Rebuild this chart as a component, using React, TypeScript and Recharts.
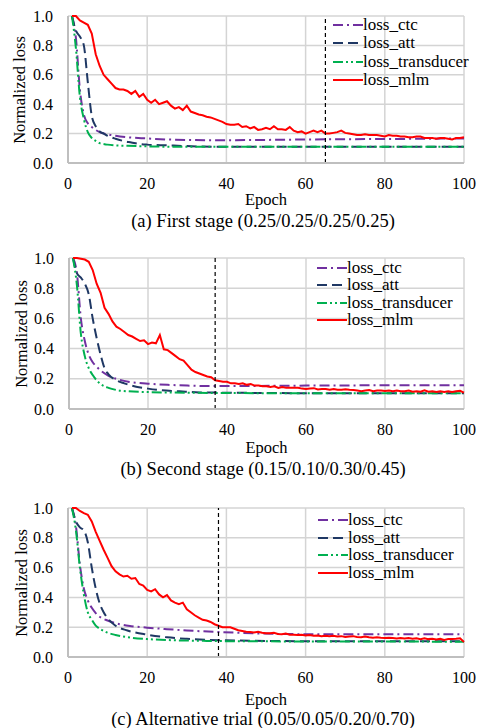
import React from 'react';
import { LineChart, Line, XAxis, YAxis, CartesianGrid, ReferenceLine } from 'recharts';

const FONT = 'Liberation Serif';

const xTicks = [0, 20, 40, 60, 80, 100];
const yTicks = [0, 0.2, 0.4, 0.6, 0.8, 1.0];
const seriesNames = ['loss_ctc', 'loss_att', 'loss_transducer', 'loss_mlm'];
const captions = [
  '(a) First stage (0.25/0.25/0.25/0.25)',
  '(b) Second stage (0.15/0.10/0.30/0.45)',
  '(c) Alternative trial (0.05/0.05/0.20/0.70)',
];
const stageBoundaries = [65, 37, 38];

// epochs for the per-epoch mlm series
const mlmEpochs = Array.from({ length: 100 }, (_, i) => i + 1);

// ---------- Panel (a) ----------
const aCtcEpochs = [1, 2, 3, 4, 5, 6, 7, 8, 10, 12, 15, 20, 25, 30, 40, 50, 60, 70, 80, 90, 100];
const aCtc = [1.0, 0.85, 0.5, 0.33, 0.27, 0.245, 0.225, 0.21, 0.195, 0.185, 0.175, 0.167, 0.16, 0.157, 0.155, 0.157, 0.16, 0.162, 0.163, 0.165, 0.167];
const aAttEpochs = [1, 2, 3, 4, 5, 6, 7, 8, 9, 10, 12, 14, 16, 18, 20, 25, 30, 40, 60, 80, 100];
const aAtt = [1.0, 0.9, 0.86, 0.8, 0.55, 0.32, 0.25, 0.215, 0.2, 0.185, 0.165, 0.15, 0.14, 0.13, 0.125, 0.12, 0.115, 0.11, 0.11, 0.11, 0.11];
const aTrdEpochs = [1, 2, 3, 4, 5, 6, 7, 8, 10, 12, 15, 20, 30, 50, 100];
const aTrd = [1.0, 0.78, 0.45, 0.3, 0.21, 0.17, 0.15, 0.135, 0.125, 0.12, 0.117, 0.113, 0.11, 0.11, 0.11];
const aMlm = [
  1.0, 1.0, 0.97, 0.955, 0.94, 0.88, 0.74, 0.66, 0.6, 0.57,
  0.54, 0.51, 0.5, 0.5, 0.49, 0.47, 0.49, 0.45, 0.47, 0.43,
  0.41, 0.43, 0.4, 0.41, 0.42, 0.39, 0.37, 0.38, 0.36, 0.39,
  0.35, 0.34, 0.33, 0.325, 0.315, 0.31, 0.3, 0.29, 0.28, 0.265,
  0.26, 0.26, 0.265, 0.245, 0.25, 0.235, 0.245, 0.225, 0.23, 0.24,
  0.23, 0.25, 0.23, 0.23, 0.225, 0.245, 0.22, 0.21, 0.215, 0.2,
  0.21, 0.22, 0.21, 0.22, 0.2, 0.2, 0.205, 0.21, 0.22, 0.205,
  0.2, 0.195, 0.19, 0.19, 0.195, 0.19, 0.19, 0.19, 0.185, 0.18,
  0.19, 0.185, 0.185, 0.18, 0.18, 0.175, 0.175, 0.18, 0.18, 0.17,
  0.17, 0.17, 0.165, 0.17, 0.17, 0.165, 0.16, 0.17, 0.17, 0.175,
];

// ---------- Panel (b) ----------
const bCtcEpochs = [1, 2, 3, 4, 5, 6, 7, 8, 10, 12, 15, 20, 25, 30, 35, 40, 60, 80, 100];
const bCtc = [1.0, 0.9, 0.6, 0.45, 0.36, 0.31, 0.28, 0.255, 0.22, 0.2, 0.18, 0.168, 0.16, 0.155, 0.152, 0.152, 0.155, 0.157, 0.158];
const bAttEpochs = [1, 2, 3, 4, 5, 6, 7, 8, 9, 10, 12, 14, 17, 20, 23, 28, 33, 40, 60, 80, 100];
const bAtt = [1.0, 0.9, 0.87, 0.83, 0.76, 0.6, 0.47, 0.36, 0.27, 0.23, 0.19, 0.17, 0.148, 0.135, 0.125, 0.117, 0.11, 0.108, 0.105, 0.105, 0.105];
const bTrdEpochs = [1, 2, 3, 4, 5, 6, 7, 8, 10, 12, 15, 20, 30, 50, 100];
const bTrd = [1.0, 0.82, 0.5, 0.35, 0.27, 0.225, 0.19, 0.165, 0.14, 0.126, 0.117, 0.112, 0.108, 0.105, 0.105];
const bMlm = [
  1.0, 1.0, 0.995, 0.99, 0.975, 0.92, 0.83, 0.77, 0.67, 0.63,
  0.58, 0.545, 0.53, 0.51, 0.49, 0.48, 0.465, 0.45, 0.455, 0.43,
  0.44, 0.435, 0.49, 0.395, 0.39, 0.37, 0.35, 0.33, 0.32, 0.29,
  0.26, 0.245, 0.235, 0.225, 0.215, 0.21, 0.19, 0.185, 0.18, 0.18,
  0.17, 0.17, 0.165, 0.17, 0.16, 0.165, 0.155, 0.155, 0.15, 0.15,
  0.145, 0.15, 0.14, 0.145, 0.14, 0.14, 0.14, 0.14, 0.135, 0.132,
  0.135, 0.138, 0.13, 0.133, 0.132, 0.128, 0.132, 0.128, 0.127, 0.13,
  0.127, 0.126, 0.122, 0.118, 0.122, 0.126, 0.118, 0.122, 0.122, 0.12,
  0.122, 0.118, 0.122, 0.118, 0.118, 0.122, 0.114, 0.118, 0.114, 0.123,
  0.114, 0.118, 0.113, 0.118, 0.113, 0.117, 0.113, 0.118, 0.12, 0.108,
];

// ---------- Panel (c) ----------
const cCtcEpochs = [1, 2, 3, 4, 5, 6, 7, 8, 10, 13, 16, 20, 25, 30, 38, 48, 60, 80, 100];
const cCtc = [1.0, 0.88, 0.62, 0.46, 0.38, 0.33, 0.295, 0.27, 0.245, 0.22, 0.207, 0.197, 0.187, 0.178, 0.168, 0.158, 0.153, 0.152, 0.152];
const cAttEpochs = [1, 2, 3, 4, 5, 6, 7, 8, 9, 10, 12, 15, 20, 25, 30, 38, 50, 70, 100];
const cAtt = [1.0, 0.91, 0.87, 0.85, 0.77, 0.6, 0.46, 0.36, 0.3, 0.26, 0.21, 0.178, 0.15, 0.132, 0.122, 0.113, 0.108, 0.105, 0.105];
const cTrdEpochs = [1, 2, 3, 4, 5, 6, 7, 8, 9, 10, 12, 15, 20, 26, 35, 50, 100];
const cTrd = [1.0, 0.85, 0.6, 0.42, 0.3, 0.25, 0.21, 0.19, 0.175, 0.163, 0.148, 0.133, 0.12, 0.113, 0.108, 0.105, 0.103];
const cMlm = [
  1.0, 1.0, 0.98, 0.965, 0.955, 0.91, 0.84, 0.78, 0.72, 0.665,
  0.61, 0.575, 0.555, 0.54, 0.545, 0.525, 0.53, 0.49, 0.48, 0.45,
  0.44, 0.455, 0.42, 0.4, 0.415, 0.38, 0.365, 0.355, 0.365, 0.32,
  0.3, 0.28, 0.265, 0.25, 0.245, 0.235, 0.22, 0.21, 0.2, 0.2,
  0.2, 0.19, 0.18, 0.175, 0.17, 0.168, 0.165, 0.17, 0.163, 0.16,
  0.16, 0.162, 0.155, 0.152, 0.157, 0.15, 0.15, 0.148, 0.15, 0.145,
  0.147, 0.142, 0.145, 0.14, 0.143, 0.14, 0.142, 0.138, 0.14, 0.135,
  0.138, 0.14, 0.135, 0.133, 0.138, 0.132, 0.13, 0.133, 0.13, 0.128,
  0.13, 0.128, 0.125, 0.128, 0.125, 0.127, 0.123, 0.125, 0.12, 0.125,
  0.12, 0.122, 0.118, 0.122, 0.115, 0.12, 0.12, 0.122, 0.125, 0.1,
];

const COLORS = ['#7030A0', '#1F3864', '#00B050', '#FF0000'];
const DASHES = ['10 4 2 4', '10 5', '10 3 2 3 2 3', undefined];

type Pt = { epoch: number; [k: string]: number | undefined };

function buildTable(series: { ep: number[]; v: number[] }[]): Pt[] {
  const map = new Map<number, Pt>();
  series.forEach((s, si) => {
    s.ep.forEach((e, i) => {
      if (!map.has(e)) map.set(e, { epoch: e });
      (map.get(e) as Pt)['s' + si] = s.v[i];
    });
  });
  return Array.from(map.values()).sort((a, b) => a.epoch - b.epoch);
}

const panelData = [
  buildTable([{ ep: aCtcEpochs, v: aCtc }, { ep: aAttEpochs, v: aAtt }, { ep: aTrdEpochs, v: aTrd }, { ep: mlmEpochs, v: aMlm }]),
  buildTable([{ ep: bCtcEpochs, v: bCtc }, { ep: bAttEpochs, v: bAtt }, { ep: bTrdEpochs, v: bTrd }, { ep: mlmEpochs, v: bMlm }]),
  buildTable([{ ep: cCtcEpochs, v: cCtc }, { ep: cAttEpochs, v: cAtt }, { ep: cTrdEpochs, v: cTrd }, { ep: mlmEpochs, v: cMlm }]),
];

type Layout = {
  plotTop: number; plotBottom: number; plotLeft: number; plotRight: number;
  legendX: number; legendY: number; legendGap: number;
  yLabelX: number; epochY: number; captionY: number;
};

const layouts: Layout[] = [
  { plotTop: 16, plotBottom: 163, plotLeft: 68, plotRight: 464, legendX: 333, legendY: 25, legendGap: 18.3, yLabelX: 20, epochY: 200, captionY: 221 },
  { plotTop: 258, plotBottom: 409, plotLeft: 69, plotRight: 464, legendX: 317, legendY: 268, legendGap: 17.3, yLabelX: 22, epochY: 448, captionY: 469 },
  { plotTop: 508, plotBottom: 657, plotLeft: 68, plotRight: 464, legendX: 318, legendY: 520, legendGap: 17.5, yLabelX: 22, epochY: 700, captionY: 719 },
];

const tickStyle = { fontFamily: FONT, fontSize: 16, fill: '#000' };

function Panel({ idx }: { idx: number }) {
  const L = layouts[idx];
  const mt = 10;
  const xh = 30;
  const h = L.plotBottom - L.plotTop + mt + xh;
  const data = panelData[idx];
  return (
    <>
      <div style={{ position: 'absolute', left: 0, top: L.plotTop - mt, fontFamily: FONT }}>
        <LineChart width={478} height={h} data={data}
          margin={{ top: mt, right: 478 - L.plotRight, bottom: 0, left: 0 }}>
          <CartesianGrid stroke="#D4D4D4" strokeWidth={1.5} />
          <XAxis dataKey="epoch" type="number" domain={[0, 100]} ticks={xTicks} height={xh}
            tickLine={false} tickSize={0} tickMargin={15} interval={0}
            axisLine={{ stroke: '#BFBFBF', strokeWidth: 2 }} tick={tickStyle} />
          <YAxis type="number" domain={[0, 1]} ticks={yTicks} width={L.plotLeft}
            tickLine={false} tickSize={0} tickMargin={15} interval={0}
            tickFormatter={(v: number) => v.toFixed(1)}
            axisLine={{ stroke: '#BFBFBF', strokeWidth: 2 }} tick={tickStyle} />
          {seriesNames.map((n, si) => (
            <Line key={n} dataKey={'s' + si} name={n} type={si === 3 ? 'linear' : 'monotone'}
              stroke={COLORS[si]} strokeWidth={2} strokeDasharray={DASHES[si]}
              dot={false} activeDot={false} connectNulls isAnimationActive={false} />
          ))}
          <ReferenceLine x={stageBoundaries[idx]} stroke="#000" strokeWidth={1.2} strokeDasharray="4 3" />
        </LineChart>
      </div>
      {/* legend */}
      {seriesNames.map((n, si) => (
        <div key={n} style={{ position: 'absolute', left: L.legendX, top: L.legendY + si * L.legendGap - 9, height: 18, display: 'flex', alignItems: 'center', fontFamily: FONT, fontSize: 17, color: '#000', whiteSpace: 'nowrap', lineHeight: '18px' }}>
          <svg width={30} height={18} style={{ display: 'block' }}>
            <line x1={0} y1={9} x2={30} y2={9} stroke={COLORS[si]} strokeWidth={2} strokeDasharray={DASHES[si]} />
          </svg>
          <span>{n}</span>
        </div>
      ))}
      {/* y label */}
      <div style={{ position: 'absolute', left: L.yLabelX - 80, top: (L.plotTop + L.plotBottom) / 2 - 9, width: 160, height: 18, lineHeight: '18px', textAlign: 'center', transform: 'rotate(-90deg)', fontFamily: FONT, fontSize: 16.5, color: '#000' }}>
        Normalized loss
      </div>
      {/* x label */}
      <div style={{ position: 'absolute', left: (L.plotLeft + L.plotRight) / 2 - 60, top: L.epochY - 9, width: 120, height: 18, lineHeight: '18px', textAlign: 'center', fontFamily: FONT, fontSize: 16.5, color: '#000' }}>
        Epoch
      </div>
      {/* caption */}
      <div style={{ position: 'absolute', left: 263 - 200, top: L.captionY - 9, width: 400, height: 18, lineHeight: '18px', textAlign: 'center', fontFamily: FONT, fontSize: 18.5, color: '#000', whiteSpace: 'nowrap' }}>
        {captions[idx]}
      </div>
    </>
  );
}

export default function App() {
  return (
    <div style={{ position: 'absolute', left: 0, top: 0, width: 478, height: 728, background: '#fff', overflow: 'hidden' }}>
      <Panel idx={0} />
      <Panel idx={1} />
      <Panel idx={2} />
    </div>
  );
}
